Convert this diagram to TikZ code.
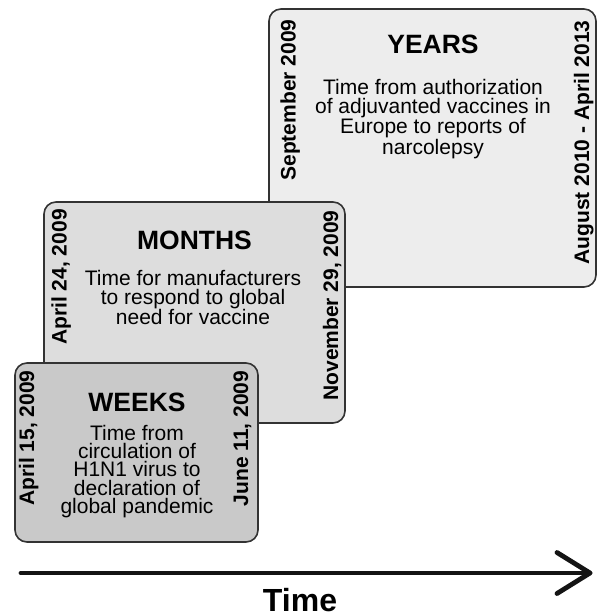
\documentclass[tikz,border=0pt]{standalone}
\usepackage{fontspec}
\setmainfont{Liberation Sans}
\definecolor{yearsfill}{gray}{0.93}
\definecolor{monthsfill}{gray}{0.865}
\definecolor{weeksfill}{gray}{0.79}
\definecolor{edgegray}{gray}{0.2}
\tikzset{
  panel/.style={draw=edgegray, line width=1.6pt, rounded corners=12pt, inner sep=0pt},
  paneltitle/.style={font=\fontsize{26.5}{30}\selectfont\bfseries, anchor=base, inner sep=0pt},
  panelbody/.style={font=\fontsize{21}{18.4}\selectfont, align=center, inner sep=0pt},
  datelabel/.style={font=\fontsize{21}{24}\selectfont\bfseries, rotate=90, anchor=base, inner sep=0pt},
  timearrow/.style={line width=4.8pt, line cap=round, line join=round, color=black!92}
}
\begin{document}
\begin{tikzpicture}[x=1pt, y=-1pt]
\useasboundingbox (0,0) rectangle (597,615);
% YEARS panel
\node[panel, fill=yearsfill, minimum width=327pt, minimum height=278pt] (yearsbox) at (432.5,148) {};
\node[paneltitle] (yearstitle) at (433,53.3) {YEARS};
\node[panelbody] (yearsbody) at (433,119) {Time from authorization\\of adjuvanted vaccines in\\Europe to reports of\\narcolepsy};
\node[datelabel] (yearsstart) at (295.5,100) {September 2009};
\node[datelabel] (yearsend) at (589,142.5) {August 2010 - April 2013};
% MONTHS panel
\node[panel, fill=monthsfill, minimum width=301pt, minimum height=221pt] (monthsbox) at (194.5,312.5) {};
\node[paneltitle] (monthstitle) at (194.5,249.3) {MONTHS};
\node[panelbody] (monthsbody) at (193,297.8) {Time for manufacturers\\to respond to global\\need for vaccine};
\node[datelabel] (monthsstart) at (66.5,277) {April 24, 2009};
\node[datelabel] (monthsend) at (338,305.5) {November 29, 2009};
% WEEKS panel
\node[panel, fill=weeksfill, minimum width=243pt, minimum height=179pt] (weeksbox) at (136.5,452.5) {};
\node[paneltitle] (weekstitle) at (137,411.7) {WEEKS};
\node[panelbody] (weeksbody) at (137,471.5) {Time from\\circulation of\\H1N1 virus to\\declaration of\\global pandemic};
\node[datelabel] (weeksstart) at (34,438) {April 15, 2009};
\node[datelabel] (weeksend) at (248,438.5) {June 11, 2009};
% time axis
\coordinate (tstart) at (21,573);
\coordinate (tend) at (590,573);
\draw[timearrow] (tstart) -- (tend);
\draw[timearrow] ([shift={(-33,-20.5)}]tend) -- (tend) -- ([shift={(-33,20.5)}]tend);
\node[font=\fontsize{32}{36}\selectfont\bfseries, anchor=base, inner sep=0pt] (timelabel) at (300,611.5) {Time};
\end{tikzpicture}
\end{document}
